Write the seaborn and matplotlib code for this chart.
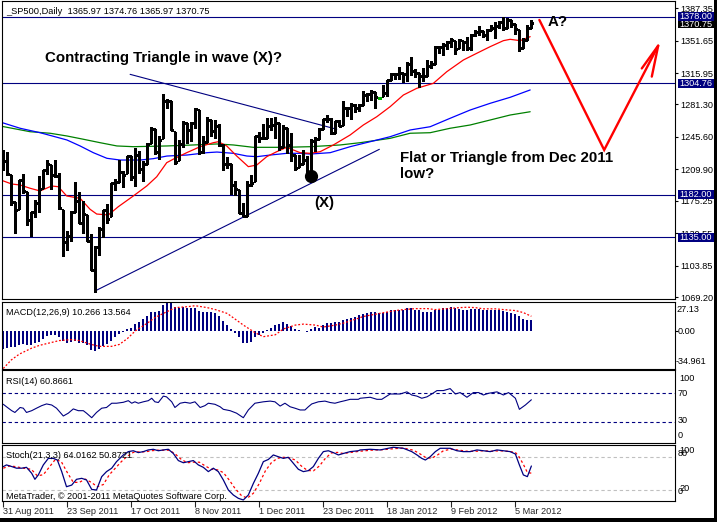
import matplotlib
matplotlib.use("Agg")
import matplotlib.pyplot as plt
import matplotlib.transforms as mtrans
from matplotlib.patches import Rectangle
import seaborn as sns
import numpy as np
import pandas as pd

sns.set_style("white")
plt.rcParams["font.family"] = ["Liberation Sans", "DejaVu Sans"]

# ---------------- data (daily bars, 31 Aug 2011 .. 9 Mar 2012) ----------------
opens = [1213.0,1219.1,1203.9,1173.9,1165.9,1198.0,1185.4,1153.5,1162.6,1173.3,
         1189.4,1209.2,1215.0,1204.5,1203.6,1164.6,1128.8,1136.9,1163.3,1175.4,
         1151.7,1159.9,1131.2,1097.4,1124.0,1144.1,1165.0,1158.2,1194.6,1196.2,
         1207.0,1205.7,1224.5,1200.8,1223.5,1209.9,1215.4,1238.7,1254.2,1229.2,
         1244.0,1284.4,1285.0,1251.0,1219.6,1238.3,1260.8,1253.2,1261.1,1275.2,
         1229.6,1240.1,1263.9,1251.7,1257.8,1236.6,1216.2,1215.6,1193.0,1187.5,
         1161.4,1158.7,1192.6,1196.7,1246.9,1246.0,1244.3,1257.2,1258.1,1260.9,
         1234.5,1255.0,1236.8,1225.7,1212.1,1216.1,1219.7,1205.7,1241.3,1243.7,
         1254.0,1265.0,1265.4,1249.8,1262.8,1258.9,1277.0,1277.3,1280.9,1277.8,
         1280.8,1292.0,1292.5,1294.8,1288.5,1290.2,1293.7,1308.1,1314.5,1315.3,
         1316.0,1314.4,1326.3,1318.3,1316.2,1313.5,1312.5,1324.2,1326.2,1344.3,
         1344.3,1347.0,1350.0,1351.2,1343.1,1351.3,1350.5,1342.6,1358.1,1361.2,
         1362.1,1357.5,1363.5,1365.2,1367.6,1372.2,1365.9,1374.1,1369.6,1363.6,
         1343.4,1352.7,1366.0]
highs = [1230.7,1229.3,1203.9,1173.9,1198.6,1204.4,1185.4,1162.5,1176.4,1202.4,
         1209.1,1220.1,1215.0,1220.4,1206.3,1164.6,1141.7,1164.2,1195.9,1184.7,
         1175.1,1159.9,1139.0,1125.1,1146.1,1165.6,1171.4,1194.9,1199.2,1220.3,
         1207.5,1224.6,1224.6,1233.1,1229.6,1219.4,1239.0,1256.6,1254.2,1246.3,
         1292.7,1287.1,1285.0,1251.0,1242.5,1263.2,1260.8,1261.7,1277.6,1275.2,
         1246.2,1267.0,1263.9,1264.3,1259.6,1237.7,1223.5,1215.6,1196.8,1187.5,
         1172.7,1197.4,1203.7,1247.1,1251.1,1260.1,1266.7,1266.0,1267.1,1260.9,
         1258.3,1255.0,1249.9,1225.7,1225.6,1231.0,1224.6,1242.8,1245.1,1255.2,
         1265.4,1269.4,1265.9,1263.5,1264.1,1284.6,1278.7,1283.1,1281.8,1282.0,
         1296.5,1293.8,1296.8,1294.8,1288.5,1303.0,1308.1,1315.5,1315.4,1322.3,
         1316.0,1328.3,1333.5,1320.1,1316.2,1321.4,1330.5,1329.2,1345.3,1344.4,
         1349.2,1351.0,1354.3,1351.2,1353.4,1351.3,1355.9,1359.0,1363.4,1367.8,
         1362.7,1364.2,1368.9,1371.9,1373.1,1378.0,1376.2,1374.5,1369.6,1363.6,
         1354.9,1368.7,1374.8]
lows = [1209.4,1203.9,1170.6,1140.1,1165.9,1183.3,1148.4,1136.1,1157.4,1162.7,
        1189.4,1204.5,1188.4,1201.3,1166.2,1114.2,1121.4,1131.1,1163.3,1150.9,
        1139.9,1131.3,1098.9,1074.8,1115.7,1135.0,1150.3,1158.2,1187.3,1196.2,
        1190.6,1205.7,1198.6,1191.5,1206.3,1197.3,1215.4,1238.7,1226.8,1221.1,
        1244.0,1277.0,1253.2,1215.4,1219.6,1234.8,1238.9,1240.8,1255.0,1226.6,
        1227.7,1240.1,1246.7,1244.3,1235.7,1209.4,1211.4,1183.2,1181.7,1161.8,
        1158.7,1158.7,1191.8,1196.7,1239.7,1243.4,1244.3,1253.0,1244.8,1231.5,
        1234.5,1227.3,1219.4,1209.5,1212.1,1215.2,1202.4,1205.7,1229.5,1243.7,
        1254.0,1262.3,1248.6,1249.8,1257.5,1258.9,1268.1,1265.3,1273.3,1274.5,
        1280.8,1285.4,1285.8,1277.6,1288.5,1290.2,1291.0,1308.1,1309.2,1309.9,
        1306.1,1307.7,1313.6,1311.7,1300.5,1306.7,1312.5,1321.6,1326.2,1337.5,
        1335.9,1342.0,1344.6,1337.4,1343.1,1340.8,1340.8,1341.2,1357.2,1358.1,
        1355.5,1352.3,1363.5,1354.9,1366.0,1363.8,1365.9,1366.4,1359.1,1340.0,
        1343.4,1352.7,1366.0]
closes = [1218.9,1204.4,1174.0,1165.2,1198.6,1185.9,1154.2,1162.3,1172.9,1188.7,
          1209.1,1216.0,1204.1,1202.1,1166.8,1129.6,1136.4,1163.0,1175.4,1151.1,
          1160.4,1131.4,1099.2,1124.0,1144.0,1165.0,1155.5,1194.9,1195.5,1207.3,
          1203.7,1224.6,1200.9,1225.4,1209.9,1215.4,1238.3,1254.2,1229.1,1242.0,
          1284.6,1285.1,1253.3,1218.3,1237.9,1261.2,1253.2,1261.1,1275.9,1229.1,
          1239.7,1263.9,1251.8,1257.8,1236.9,1216.1,1215.7,1193.0,1188.0,1161.8,
          1158.7,1192.6,1195.2,1247.0,1244.6,1244.3,1257.1,1258.5,1261.0,1234.4,
          1255.2,1236.5,1225.7,1211.8,1215.8,1219.7,1205.4,1241.3,1243.7,1254.0,
          1265.3,1265.4,1249.6,1263.0,1257.6,1277.1,1277.3,1281.1,1277.8,1280.7,
          1292.1,1292.5,1295.5,1289.1,1288.5,1293.7,1308.0,1314.5,1315.4,1316.0,
          1314.7,1326.1,1318.4,1316.3,1313.0,1312.4,1324.1,1325.5,1344.9,1344.3,
          1347.1,1350.0,1352.0,1342.6,1351.8,1350.5,1343.2,1358.0,1361.2,1362.2,
          1357.7,1363.5,1365.7,1367.6,1372.2,1365.7,1374.1,1369.6,1364.3,1343.4,
          1352.6,1365.9,1370.75]

date_ticks = [0, 16, 32, 48, 64, 80, 96, 112, 128]
date_labels = ["31 Aug 2011", "23 Sep 2011", "17 Oct 2011", "8 Nov 2011", "1 Dec 2011",
               "23 Dec 2011", "18 Jan 2012", "9 Feb 2012", "5 Mar 2012"]

# moving averages (bar index, price)
ma_red_x = [-0.15,2.1,4.2,6.7,9.2,12.1,13.75,15.85,19.2,21.7,23.35,26.25,28.75,32.5,35.85,38.35,
            40.85,42.9,45.85,49.2,52.5,53.75,55.85,58.35,61.25,63.35,65.85,68.35,70.85,74.2,
            76.7,79.2,82.5,86.7,90,93.35,96.7,100,103.35,107.5,110.85,115,118.35,121.7,125,
            126.7,129.2,131.7]
ma_red_y = [1197.3,1193.7,1192.6,1189.0,1186.0,1191.5,1190.7,1180.5,1177.9,1165.8,1160.6,1159.6,
            1168.7,1180.5,1191.5,1201.7,1217.2,1222.0,1228.2,1234.8,1239.2,1240.3,1235.6,1224.5,
            1212.8,1214.6,1223.8,1229.3,1234.1,1228.2,1227.5,1229.3,1236.7,1247.7,1258.7,1267.8,
            1278.9,1291.7,1299.1,1304.6,1317.4,1330.3,1337.7,1345.0,1351.6,1353.1,1351.6,1356.0]
ma_blue_x = [-0.8,4.2,9.2,12.9,15.9,19.2,22.5,25.9,29.2,34.2,37.5,40.9,45.9,50.9,53.4,57.5,60.9,
             63.4,66.7,70.9,74.2,76.7,81.7,86.7,91.7,96.7,101.7,106.7,111.7,116.7,121.7,126.7,131.7]
ma_blue_y = [1262.0,1255.1,1250.2,1245.8,1242.2,1235.6,1228.2,1222.0,1220.1,1220.1,1221.6,1224.5,
             1225.6,1228.2,1228.9,1227.5,1224.5,1223.8,1225.6,1227.5,1227.5,1226.7,1228.2,1234.8,
             1240.3,1245.8,1253.2,1256.8,1266.1,1275.2,1282.6,1289.2,1297.3]
ma_green_x = [-0.8,6.7,11.7,15.9,20.0,24.2,28.4,32.5,40.9,47.5,53.4,57.5,62.5,70.0,76.7,84.2,89.2,
              96.7,101.7,106.7,111.7,116.7,121.7,126.7,131.7]
ma_green_y = [1257.6,1251.3,1249.6,1246.6,1243.0,1239.2,1235.6,1234.8,1235.6,1236.7,1237.8,1236.7,
              1234.1,1234.1,1234.8,1236.7,1239.2,1244.0,1249.6,1250.2,1255.1,1258.7,1264.2,1269.7,
              1273.3]

h_levels = [1378.0, 1304.76, 1182.0, 1135.0]
price_ticks = [1387.35, 1351.65, 1315.95, 1281.30, 1245.60, 1209.90, 1175.25, 1139.55, 1103.85, 1069.20]

macd_main = [-17.1,-16.2,-15.3,-15.3,-13.5,-12.6,-13.5,-13.5,-11.7,-9.9,
             -7.2,-4.5,-3.6,-3.6,-5.4,-9,-10.8,-9.9,-9,-10.8,
             -10.8,-13.5,-18,-18.9,-17.1,-14.4,-12.6,-9,-5.4,-2.7,
             -0.9,1.8,2.7,6.3,8.1,10.8,13.5,17.1,18,18.9,
             24.3,27.1,26.1,22.5,21.6,22.5,21.6,21.6,21.6,18.9,
             18,18,17.1,16.2,13.5,9,5.4,1.8,-1.8,-5.4,
             -10.8,-11.7,-9.9,-5.4,-3.6,-1.8,0.9,2.7,5.4,6.3,
             8.1,6.3,4.5,1.8,0.9,0.2,-0.9,1.8,3.6,2.7,
             5.4,7.2,7.2,8.1,8.1,9.9,10.8,11.7,12.6,14.4,
             15.6,17,18,18,17,16.2,17.7,19.1,19.8,19.8,
             19.8,20.9,21.2,19.8,19.1,18,18,18,19.1,19.8,
             20.9,21.2,22.3,21.2,20.5,19.8,19.1,20.2,20.5,20.5,
             19.1,19.1,19.1,19.8,19.1,18.4,18,17,15.6,13.4,
             10.8,10.5,10.266]
macd_sig_x = [0,2,4,7,9,12,14,17,19,22,24,27,29,31,33,36,38,41,43,46,48,51,53,56,58,60,63,65,68,
              70,73,75,78,80,83,85,88,90,94,98,100,103,106,108,111,114,116,118,120,123,125,128,130,132]
macd_sig_y = [-34.96,-27,-21.6,-16.2,-13.5,-10.8,-9,-8.1,-9,-12.6,-14.4,-14.4,-12.6,-7.2,0,7.2,
              12.6,18,21.6,22.5,23.4,21.6,19.8,16.2,10.8,5.4,-1.8,-5.4,-3.6,1.8,5.4,6.3,5.4,3.6,
              5.4,7.2,10.8,13.4,16.2,18.9,19.8,20.7,20.7,19.8,20.7,21.6,22,21.6,20.5,20.5,19.8,
              18.9,17,13.564]

rsi_x = [0,0.8,2.1,2.9,4.2,5,5.8,7.1,8.3,9.6,10.8,12.1,13.3,15,16.25,17.5,18.75,20,20.8,22.1,
         23.3,24.6,25.8,27.1,28.3,30,31.25,32.1,32.9,33.75,35,36.25,37.1,37.9,38.75,40,40.8,
         42.1,42.9,44.2,45.4,46.7,47.9,49.2,50.4,51.25,52.9,54.2,55,56.7,58.3,60,61.25,62.9,
         65,66.7,67.9,69.2,70.4,71.7,72.9,74.2,75.4,76.25,77.1,78.75,80.4,81.7,82.9,84.2,85.4,
         86.7,88.75,89.2,91.7,93.4,94.6,96.7,99.2,100.9,102.1,103.4,104.6,105.9,107.1,108.4,
         110,111.7,113,114.2,115.9,117.5,118.8,120,121.3,123.4,125,126.3,128,129,130.5,132]
rsi_y = [54.5,51,45.5,43,50,49,43,45.5,49,52.6,55,53.5,49,38,42,48,45.5,45.5,42,35.6,
         43,49,50,56,56,57.3,59.6,56,58,56,58,59.6,63,58,57,66,65,
         58,50,56,57.3,56,58,50,52.6,56,54.5,51,47.4,45.5,42,35.6,46.5,56,
         58,59,58,52,56,51,49,46.5,46.5,51,55,58,59,57,56,58,59.6,
         61.5,61.5,63,64.4,61.5,61.5,69,69,72,67.6,66,63,65,69,73.8,
         73.8,76.6,69,71,64.4,71,71,67.6,70,72,67.6,71,63,47.4,53.5,60.8661]

sto_x = [0,0.8,2.1,3.3,4.6,5.8,7.1,7.9,8.75,10,11.25,12.5,13.5,14.6,15.8,17.1,18.3,19.6,20.8,22.1,
         23.3,24.6,25.8,27.1,28.3,30,31.25,32.5,33.75,35,36.25,37.5,38.75,40,41.25,42.5,43.75,45,
         46.25,47.5,48.75,50,51.25,52.5,53.75,55,56.25,57.5,58.75,60,61.25,62.5,63.75,65,66.25,
         67.5,68.75,70,71.25,72.5,73.75,75,76.25,77.5,78.75,80,81.25,82.5,83.75,85,86.7,88.75,
         89.2,91.7,94.2,97.5,100,102.1,103.4,104.6,105.5,106.7,108,109.2,111.7,113.4,115,116.7,
         118.4,120,121.7,123.4,125,126.7,128,129,130,131,132]
sto_y = [62.9,66,63,60,60,61.6,50.6,39.6,47.6,66,78,78,75,53.7,26,29,39.6,41.4,38.4,21,
         20,44.5,53.7,60,72,84.3,90.4,92,88.6,90.4,93.5,94.7,92,93.5,94.7,87,74,70,
         72,74,66,61.6,53.7,60,53.7,38.4,20,10.8,4.7,1.7,10.8,32,50.6,72,76,
         84.3,81,78,80,69,58,53.7,55.5,62.9,78,90.4,92,88.6,84.3,87,90.4,92,
         93.5,94.7,93.5,98.4,96.5,90.4,84.3,78,75,81,90.4,96.5,96.5,92,90.4,90.4,
         93.5,92,90.4,93.5,92,90.4,86,66,47.6,44.5,64.0162]
sto_sig_x = [0,1.5,3,5,7,8.5,10,11.5,13,14.5,16,17.5,19,20.5,22,23.5,25,26.5,28,29.5,31,32.5,34,
             35.5,37,38.5,40,41.5,43,44.5,46,47.5,49,50.5,52,53.5,55,56.5,58,59.5,61,62.5,64,
             65.5,67,68.5,70,71.5,73,74.5,76,77.5,79,80.5,82,83.5,85,87,89,92,95,98,100,102.5,
             104,105.5,107,108.5,110,112,114,116,118,120,122,124,126,128,129,130,131,132]
sto_sig_y = [60,64,63,60,58,46,48,62,76,72,52,34,34,40,34,26,30,48,60,72,82,89,90,90,92,93,93,
             93,86,76,70,71,71,64,58,57,52,38,22,10,5,14,32,55,70,78,80,79,75,64,56,55,64,
             78,88,89,87,89,91,93,94,96,97,93,87,80,78,84,92,95,93,91,91,92,91,92,91,89,80,
             67,52,50.8721]

# ---------------- layout helpers ----------------
W, H = 717, 522
fig = plt.figure(figsize=(W / 100, H / 100), dpi=100, facecolor="white")
XL = (-0.325, 167.9)
NAVY = "#000080"
FS = 6.6


def fx(x):
    return x / W


def fy(y):
    return 1 - y / H


def add_ax(y0, y1, ylim):
    ax = fig.add_axes([fx(2), fy(y1), (675 - 2) / W, (y1 - y0) / H])
    ax.set_facecolor("white")
    for s in ax.spines.values():
        s.set_color("black")
        s.set_linewidth(0.8)
    ax.set_xlim(*XL)
    ax.set_ylim(*ylim)
    ax.tick_params(axis="x", bottom=False, labelbottom=False)
    ax.yaxis.tick_right()
    ax.tick_params(axis="y", right=True, left=False, length=2.2, width=0.8,
                   pad=1.5, labelsize=FS, colors="black")
    ax.set_yticks([])
    return ax


def ftext(x, y, s, **kw):
    kw.setdefault("fontsize", FS)
    kw.setdefault("color", "black")
    return fig.text(fx(x), fy(y), s, **kw)


idx = np.arange(len(closes))

# ---------------- main price panel ----------------
ax = add_ax(1, 299, (1067.0, 1395.3))
ax.set_yticks(price_ticks)
ax.set_yticklabels([f"{v:.2f}" for v in price_ticks])
for v in h_levels:
    ax.axhline(v, color=NAVY, lw=0.8, zorder=1)

bar_col = ["#00b000" if h == l else "black" for h, l in zip(highs, lows)]
ax.vlines(idx, lows, highs, colors=bar_col, lw=0.8, antialiased=False, zorder=3)
ax.hlines(opens, idx - 0.45, idx, colors=bar_col, lw=0.8, antialiased=False, zorder=3)
ax.hlines(closes, idx, idx + 0.45, colors=bar_col, lw=0.8, antialiased=False, zorder=3)

sns.lineplot(x=ma_green_x, y=ma_green_y, ax=ax, color="#008000", lw=0.9, estimator=None, sort=False)
sns.lineplot(x=ma_blue_x, y=ma_blue_y, ax=ax, color="#0000ff", lw=0.9, estimator=None, sort=False)
sns.lineplot(x=ma_red_x, y=ma_red_y, ax=ax, color="#ff0000", lw=0.9, estimator=None, sort=False)

# drawn trend lines and annotations
ax.plot([22.9, 94.0], [1075.8, 1231.9], color=NAVY, lw=0.8)
ax.plot([31.7, 83.35], [1314.5, 1254.0], color=NAVY, lw=0.8)
ax.plot([76.9], [1202.8], "o", color="black", ms=8.5, zorder=5)
ax.plot([134.0, 150.2, 163.7], [1374.4, 1231.2, 1346.1], color="#ff0000", lw=1.7,
        solid_joinstyle="miter")
ax.plot([159.6, 163.7, 162.1], [1321.0, 1346.1, 1312.0], color="#ff0000", lw=1.7)
ax.set_xlabel("")
ax.set_ylabel("")

# ---------------- MACD ----------------
axm = add_ax(301.7, 368.5, (-34.961, 27.13))
axm.vlines(idx, 0, macd_main, colors=NAVY, lw=1.2, antialiased=False)
sns.lineplot(x=macd_sig_x, y=macd_sig_y, ax=axm, color="#ff0000", lw=0.9,
             linestyle=(0, (1.5, 1.5)), estimator=None, sort=False)
axm.set_yticks([0])
axm.set_yticklabels([""])
axm.set_xlabel("")
axm.set_ylabel("")

# ---------------- RSI ----------------
axr = add_ax(370, 442.7, (0.4, 102.8))
for v in (70, 30):
    axr.axhline(v, color=NAVY, lw=0.8, ls=(0, (3, 2.5)))
sns.lineplot(x=rsi_x, y=rsi_y, ax=axr, color=NAVY, lw=0.8, estimator=None, sort=False)
axr.set_xlabel("")
axr.set_ylabel("")

# ---------------- Stochastic ----------------
axs = add_ax(445.3, 501, (-0.2, 102.0))
for v in (80, 20):
    axs.axhline(v, color="#c0c0c0", lw=0.8, ls=(0, (3, 2.5)))
sns.lineplot(x=sto_sig_x, y=sto_sig_y, ax=axs, color="#ff0000", lw=0.9,
             linestyle=(0, (2, 2)), estimator=None, sort=False)
sns.lineplot(x=sto_x, y=sto_y, ax=axs, color=NAVY, lw=0.9, estimator=None, sort=False)
axs.set_xticks(date_ticks)
axs.tick_params(axis="x", bottom=True, length=4, width=0.8, labelbottom=False, direction="out")
axs.set_xlabel("")
axs.set_ylabel("")
btr = mtrans.blended_transform_factory(axs.transData, fig.transFigure)
for t, lab in zip(date_ticks, date_labels):
    axs.text(t - 0.1, fy(514), lab, transform=btr, fontsize=FS, ha="left", va="baseline")

# ---------------- texts ----------------
ftext(6, 13.5, "_SP500,Daily  1365.97 1374.76 1365.97 1370.75", va="baseline", fontsize=6.7)
ftext(6.5, 315, "MACD(12,26,9) 10.266 13.564", va="baseline")
ftext(6.5, 383.5, "RSI(14) 60.8661", va="baseline")
ftext(6.5, 458.5, "Stoch(21,3,3) 64.0162 50.8721", va="baseline")
ftext(5.5, 499, "MetaTrader, \u00a9 2001-2011 MetaQuotes Software Corp.", va="baseline")

BIG = dict(fontsize=10.8, fontweight="bold", va="baseline")
ftext(45, 62, "Contracting Triangle in wave (X)?", **BIG)
ftext(400, 161.7, "Flat or Triangle from Dec 2011", **BIG)
ftext(400, 178, "low?", **BIG)
ftext(314.5, 207, "(X)", **BIG)
ftext(548, 26.5, "A?", **BIG)

# right-hand scale texts of sub windows
ftext(676, 309.3, "27.13", va="center")
ftext(677.5, 331.7, "0.00", va="center")
ftext(676, 361.7, "-34.961", va="center")
ftext(679, 378.3, "100", va="center")
ftext(678, 393.3, "70", va="center")
ftext(678, 420.7, "30", va="center")
ftext(678, 435.7, "0", va="center")
ftext(679.5, 450.5, "100", va="center")
ftext(678, 453.5, "80", va="center")
ftext(679.5, 488.5, "20", va="center")
ftext(678, 491.5, "0", va="center")

# price boxes
def price_box(y0, y1, txt, col):
    fig.patches.append(Rectangle((fx(678), fy(y1)), (714 - 678) / W, (y1 - y0) / H,
                                 transform=fig.transFigure, facecolor=col, edgecolor="none",
                                 zorder=5))
    ftext(679.5, (y0 + y1) / 2, txt, va="center", color="white", zorder=6)

price_box(11.7, 20.7, "1378.00", NAVY)
price_box(20.7, 28.3, "1370.75", "black")
price_box(78.9, 88.0, "1304.76", NAVY)
price_box(189.8, 199.0, "1182.00", NAVY)
price_box(232.6, 241.8, "1135.00", NAVY)

# outer window border (right and bottom)
fig.patches.append(Rectangle((fx(714), 0), 3 / W, 1, transform=fig.transFigure,
                             facecolor="black", edgecolor="none", zorder=7))
fig.patches.append(Rectangle((0, 0), 1, 4 / H, transform=fig.transFigure,
                             facecolor="black", edgecolor="none", zorder=7))

fig.savefig("out.png", dpi=100, facecolor="white")
